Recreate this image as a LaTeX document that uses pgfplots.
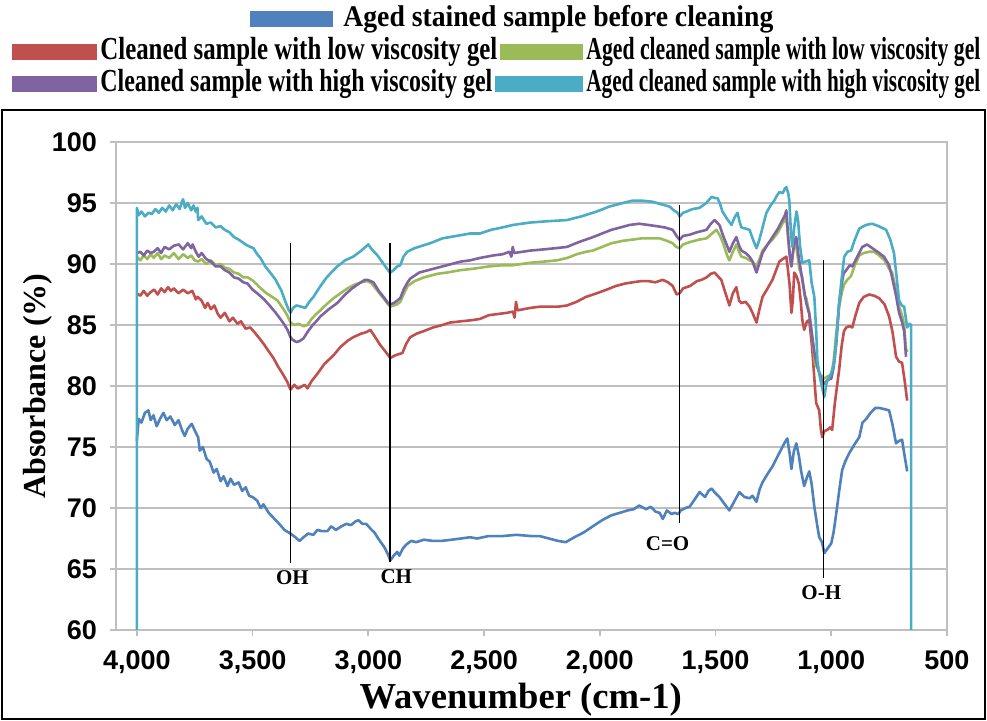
\documentclass[border=0pt]{standalone}
\usepackage{fontspec}
\setmainfont{Liberation Serif}
\newfontfamily\ticksf{Liberation Sans}
\usepackage{graphicx}
\usepackage{pgfplots}
\pgfplotsset{compat=1.18}
\definecolor{cBlue}{HTML}{4F81BD}
\definecolor{cRed}{HTML}{C0504D}
\definecolor{cGreen}{HTML}{9BBB59}
\definecolor{cPurple}{HTML}{8064A2}
\definecolor{cCyan}{HTML}{4BACC6}
\definecolor{gridgray}{HTML}{BFBFBF}
% legend text squeezed to a given width, natural height
\newcommand{\legtext}[3]{\resizebox{#1}{\height}{\bfseries\fontsize{#2}{18}\selectfont #3}}

\begin{document}
\begin{tikzpicture}
\useasboundingbox (-58pt,-45.5pt) rectangle (435.5pt,315pt);
\begin{axis}[
  at={(0pt,0pt)}, anchor=south west,
  width=415.5pt, height=244pt, scale only axis,
  x dir=reverse,
  xmin=500, xmax=4090, ymin=60, ymax=100,
  xtick={500,1000,...,4000}, ytick={60,65,...,100},
  axis line style={draw=gridgray, line width=0.8pt},
  ymajorgrids, grid style={gridgray, line width=0.8pt},
  tick align=outside, xtick pos=bottom, ytick pos=left,
  major tick length=3pt, tick style={gridgray, line width=0.8pt},
  /pgf/number format/assume math mode=true,
  tick label style={font=\ticksf\bfseries\fontsize{13.5}{14}\selectfont},
  xticklabel style={yshift=-4pt},
  yticklabel style={xshift=-3pt},
  xlabel={Wavenumber (cm-1)}, ylabel={Absorbance (\%)},
  xlabel style={font=\bfseries\fontsize{18.3}{20}\selectfont, at={(axis description cs:0.487,-0.143)}, anchor=center},
  ylabel style={font=\bfseries\fontsize{16}{18}\selectfont, at={(axis description cs:-0.094,0.5)}, anchor=center},
  every axis plot/.append style={line width=1.3pt, line join=round},
]
% Aged stained sample before cleaning
\addplot[cBlue] coordinates {
(4000,75.5) (3992,77.3) (3980,77.0) (3965,77.8) (3950,78.0) (3940,77.2) (3928,77.6) (3914,76.7)
(3900,77.3) (3885,77.8) (3871,77.2) (3855,77.5) (3836,76.8) (3820,77.2) (3805,76.4) (3793,75.9)
(3780,76.5) (3763,76.9) (3746,76.2) (3735,75.8) (3728,74.7) (3715,75.0) (3698,74.0) (3685,73.8)
(3668,72.9) (3655,73.2) (3638,72.2) (3625,72.6) (3608,71.8) (3595,72.4) (3580,71.9) (3560,72.1)
(3545,71.4) (3530,71.7) (3515,71.0) (3500,70.9) (3480,70.6) (3465,70.0) (3453,70.3) (3430,69.6)
(3405,69.1) (3385,68.7) (3362,68.2) (3345,68.0) (3336,67.9) (3315,67.6) (3297,67.3) (3280,67.6)
(3260,67.9) (3237,67.8) (3220,68.2) (3200,68.1) (3177,68.1) (3160,68.5) (3140,68.2) (3116,68.5)
(3095,68.7) (3075,68.6) (3055,68.9) (3043,69.0) (3025,68.7) (3009,68.7) (2990,68.3) (2974,68.0)
(2950,67.3) (2931,66.8) (2915,66.2) (2905,65.7) (2890,66.1) (2875,66.4) (2866,66.1) (2850,66.7)
(2836,67.0) (2815,67.3) (2793,67.2) (2760,67.4) (2720,67.3) (2685,67.3) (2640,67.4) (2600,67.5)
(2560,67.6) (2530,67.5) (2480,67.7) (2420,67.7) (2360,67.8) (2297,67.7) (2260,67.7) (2220,67.5)
(2180,67.3) (2147,67.2) (2110,67.6) (2069,68.0) (2030,68.5) (1990,69.0) (1950,69.4) (1914,69.6)
(1880,69.8) (1853,69.9) (1830,70.2) (1800,69.9) (1780,70.1) (1759,69.7) (1741,69.6) (1728,69.1)
(1710,69.8) (1690,69.5) (1677,69.6) (1660,69.5) (1650,69.8) (1630,70.0) (1612,70.1) (1590,70.7)
(1569,71.3) (1545,70.9) (1530,71.4) (1517,71.6) (1500,71.2) (1483,70.9) (1460,70.3) (1440,69.8)
(1420,70.5) (1397,71.3) (1375,70.9) (1353,70.8) (1340,71.0) (1323,70.5) (1310,71.5) (1297,72.1)
(1275,72.8) (1254,73.4) (1230,74.3) (1211,75.0) (1200,75.4) (1190,75.7) (1180,74.5) (1172,73.2)
(1162,74.6) (1151,75.3) (1140,74.3) (1130,73.0) (1117,71.8) (1105,72.5) (1095,73.0) (1085,72.0)
(1073,70.1) (1060,68.5) (1052,67.6) (1040,67.2) (1030,66.3) (1015,66.7) (1000,67.1) (990,68.0)
(978,69.6) (965,71.5) (953,73.1) (940,73.8) (922,74.5) (900,75.2) (879,75.8) (865,77.0)
(849,77.3) (830,77.8) (810,78.2) (793,78.2) (770,78.1) (750,78.0) (735,76.8) (720,75.3)
(707,75.5) (694,75.6) (685,74.5) (672,73.0)
};
% Cleaned sample with low viscosity gel
\addplot[cRed] coordinates {
(4000,87.6) (3985,87.4) (3970,87.8) (3955,87.4) (3940,87.7) (3925,87.9) (3910,87.5) (3895,88.0)
(3880,87.7) (3865,88.1) (3853,87.8) (3840,88.0) (3820,87.6) (3800,87.9) (3780,87.6) (3760,87.8)
(3745,87.1) (3737,87.3) (3720,87.0) (3705,86.4) (3694,86.8) (3680,86.3) (3665,86.6) (3650,85.9)
(3638,85.6) (3620,86.0) (3600,85.3) (3585,85.6) (3565,85.1) (3550,85.3) (3530,84.7) (3510,84.8)
(3496,84.5) (3470,83.9) (3450,83.4) (3436,83.0) (3410,82.3) (3390,81.6) (3370,81.0) (3349,80.3)
(3336,79.7) (3320,80.1) (3305,79.8) (3293,79.9) (3275,80.1) (3263,79.8) (3245,80.4) (3220,81.0)
(3190,81.8) (3151,82.5) (3120,83.2) (3090,83.7) (3065,84.0) (3030,84.3) (3010,84.4) (2991,84.6)
(2970,84.0) (2950,83.4) (2925,82.8) (2905,82.3) (2885,82.5) (2870,82.6) (2853,82.7) (2835,83.5)
(2819,84.0) (2790,84.3) (2760,84.5) (2720,84.8) (2680,85.0) (2647,85.2) (2600,85.3) (2550,85.4)
(2517,85.5) (2480,85.8) (2440,85.9) (2400,86.0) (2375,86.1) (2368,85.6) (2362,86.9) (2355,86.2)
(2300,86.4) (2260,86.5) (2228,86.5) (2180,86.5) (2142,86.6) (2100,86.9) (2060,87.3) (2013,87.6)
(1970,87.9) (1930,88.2) (1890,88.4) (1858,88.5) (1820,88.6) (1790,88.6) (1760,88.5) (1728,88.7)
(1705,88.5) (1685,88.2) (1668,87.5) (1655,87.6) (1640,88.0) (1610,88.2) (1580,88.6) (1560,88.7)
(1539,88.9) (1520,89.2) (1504,89.3) (1490,89.0) (1475,88.7) (1460,87.8) (1440,86.6) (1425,87.6)
(1410,88.1) (1398,87.0) (1388,86.8) (1370,86.9) (1353,86.5) (1340,86.0) (1323,85.2) (1310,86.3)
(1297,87.3) (1275,88.0) (1254,88.7) (1240,89.4) (1224,90.2) (1210,90.4) (1194,90.6) (1188,89.7)
(1180,88.3) (1172,86.0) (1166,87.0) (1160,89.3) (1150,89.0) (1140,88.4) (1132,87.0) (1125,85.4)
(1117,84.6) (1105,85.3) (1095,85.4) (1082,83.0) (1070,79.8) (1065,78.6) (1052,78.0) (1045,76.5)
(1039,75.8) (1030,76.3) (1017,76.4) (1005,76.6) (996,76.4) (985,78.5) (975,80.0) (966,81.3)
(955,83.3) (945,84.5) (935,84.8) (922,84.9) (909,84.8) (895,85.8) (879,86.8) (860,87.3)
(836,87.5) (815,87.4) (793,87.2) (770,86.7) (750,85.7) (735,84.4) (720,82.4) (707,82.0)
(694,81.9) (682,80.3) (672,78.8)
};
% Aged cleaned sample with low viscosity gel
\addplot[cGreen] coordinates {
(4000,90.6) (3985,90.3) (3970,90.7) (3955,90.4) (3940,90.8) (3927,90.5) (3910,90.9) (3895,90.4)
(3880,90.7) (3860,90.5) (3840,90.9) (3820,90.4) (3800,90.8) (3780,90.5) (3765,90.7) (3750,90.3)
(3735,90.2) (3720,90.4) (3700,90.0) (3680,90.3) (3660,89.9) (3638,90.0) (3620,89.7) (3600,89.6)
(3580,89.3) (3560,89.2) (3540,88.9) (3520,88.9) (3496,88.6) (3470,88.1) (3440,87.6) (3415,87.3)
(3392,87.0) (3370,86.4) (3350,85.8) (3336,85.2) (3320,85.0) (3300,85.1) (3280,84.9) (3263,85.0)
(3245,85.5) (3225,85.9) (3207,86.2) (3180,86.7) (3150,87.2) (3120,87.6) (3090,88.0) (3060,88.3)
(3030,88.5) (3004,88.6) (2985,88.4) (2960,87.8) (2935,87.2) (2915,86.7) (2905,86.5) (2890,86.6)
(2875,86.7) (2862,86.9) (2845,87.6) (2830,88.2) (2800,88.6) (2760,88.9) (2700,89.2) (2660,89.3)
(2600,89.5) (2550,89.6) (2480,89.8) (2420,89.9) (2375,89.9) (2300,90.1) (2240,90.2) (2185,90.3)
(2140,90.5) (2100,90.8) (2060,91.0) (2030,91.1) (1990,91.4) (1950,91.7) (1900,91.9) (1858,92.0)
(1820,92.1) (1780,92.1) (1741,92.1) (1710,91.9) (1685,91.7) (1670,91.4) (1655,91.3) (1640,91.6)
(1610,91.8) (1570,92.0) (1539,92.1) (1515,92.5) (1496,92.8) (1480,92.3) (1465,91.6) (1450,90.7)
(1440,90.3) (1425,91.0) (1410,91.6) (1398,91.0) (1388,90.6) (1370,90.5) (1353,90.3) (1340,90.2)
(1323,89.8) (1310,90.4) (1297,91.1) (1275,91.6) (1254,92.0) (1230,92.6) (1211,93.3) (1200,93.6)
(1194,93.8) (1186,92.0) (1178,90.5) (1172,89.8) (1165,91.0) (1158,91.8) (1150,91.3) (1138,89.6)
(1125,88.9) (1115,87.4) (1108,87.2) (1095,86.0) (1082,84.0) (1070,81.8) (1060,81.5) (1050,81.0)
(1040,80.8) (1030,80.6) (1015,80.8) (1000,80.9) (990,82.0) (980,84.0) (966,86.5) (955,87.6)
(945,88.3) (931,88.7) (915,89.0) (900,89.8) (879,90.7) (860,90.9) (836,91.0) (815,91.0)
(793,90.7) (770,90.3) (750,89.6) (737,89.3) (720,87.8) (707,86.5) (694,85.8) (685,85.0)
(677,83.0) (670,82.8)
};
% Cleaned sample with high viscosity gel
\addplot[cPurple] coordinates {
(4000,90.9) (3985,91.0) (3970,90.7) (3955,91.1) (3940,90.9) (3927,91.0) (3910,91.3) (3895,90.9)
(3880,91.4) (3860,91.2) (3840,91.5) (3819,91.6) (3800,91.2) (3780,91.7) (3765,91.3) (3759,91.6)
(3745,91.0) (3733,90.6) (3720,90.9) (3700,90.4) (3680,90.2) (3660,89.8) (3638,89.8) (3620,89.5)
(3600,89.3) (3580,88.9) (3560,88.8) (3540,88.5) (3522,88.4) (3500,87.9) (3480,87.6) (3450,87.1)
(3422,86.5) (3400,86.0) (3380,85.5) (3365,85.1) (3349,84.6) (3336,84.0) (3328,83.8) (3310,83.6)
(3295,83.7) (3280,83.9) (3260,84.5) (3240,85.0) (3220,85.4) (3207,85.7) (3170,86.3) (3134,86.8)
(3100,87.5) (3070,88.0) (3040,88.4) (3015,88.7) (3004,88.7) (2990,88.6) (2978,88.5) (2955,87.8)
(2930,87.2) (2915,86.8) (2905,86.7) (2890,86.8) (2875,87.0) (2862,87.2) (2845,88.0) (2830,88.5)
(2819,88.8) (2780,89.3) (2720,89.6) (2660,89.9) (2600,90.2) (2560,90.3) (2517,90.5) (2460,90.7)
(2420,90.8) (2390,91.0) (2382,90.6) (2376,91.4) (2370,90.9) (2300,91.1) (2240,91.2) (2190,91.3)
(2142,91.4) (2090,91.8) (2030,92.2) (1990,92.5) (1950,92.8) (1910,93.0) (1871,93.2) (1830,93.3)
(1790,93.2) (1754,93.1) (1720,93.0) (1685,92.8) (1665,92.2) (1655,92.0) (1640,92.3) (1612,92.4)
(1580,92.6) (1539,92.8) (1520,93.3) (1504,93.6) (1483,93.2) (1465,92.2) (1450,91.5) (1440,91.0)
(1425,91.7) (1410,92.2) (1398,91.5) (1388,91.1) (1370,90.9) (1353,90.6) (1340,90.2) (1323,89.3)
(1310,90.1) (1297,90.9) (1275,91.6) (1254,92.2) (1230,92.9) (1211,93.6) (1200,94.0) (1194,94.4)
(1185,92.0) (1178,90.5) (1172,89.8) (1165,91.0) (1158,92.0) (1151,92.2) (1140,90.5) (1125,88.7)
(1117,87.8) (1108,86.8) (1095,85.9) (1082,84.0) (1070,82.4) (1060,81.6) (1050,81.0) (1040,80.4)
(1030,80.2) (1015,80.5) (1000,80.6) (990,81.5) (978,83.5) (966,86.8) (955,88.3) (947,89.2)
(935,89.5) (920,89.9) (909,89.8) (890,90.5) (866,91.4) (845,91.6) (823,91.3) (800,91.0)
(772,90.6) (750,89.9) (737,88.9) (720,87.4) (707,86.0) (695,85.3) (685,84.5) (677,82.4)
};
% Aged cleaned sample with high viscosity gel
\addplot[cCyan] coordinates {
(4000,59) (4000,94.6) (3992,94.0) (3980,94.3) (3965,93.9) (3950,94.2) (3935,94.1) (3920,94.5)
(3905,94.2) (3890,94.6) (3875,94.3) (3860,94.8) (3845,94.4) (3830,94.9) (3815,94.5) (3805,95.1)
(3800,95.3) (3792,94.6) (3780,95.0) (3765,94.4) (3755,94.8) (3746,94.3) (3738,94.6) (3735,93.6)
(3720,93.9) (3700,93.3) (3680,93.4) (3660,93.0) (3638,93.1) (3620,92.8) (3600,92.6) (3580,92.2)
(3560,92.0) (3530,91.6) (3510,91.4) (3496,91.3) (3480,90.8) (3466,90.5) (3445,89.8) (3420,89.2)
(3400,88.7) (3392,88.4) (3375,87.8) (3360,87.0) (3345,86.3) (3336,86.0) (3325,86.4) (3310,86.6)
(3290,86.5) (3272,86.4) (3255,86.9) (3237,87.3) (3210,88.1) (3180,88.9) (3160,89.3) (3134,89.8)
(3100,90.3) (3065,90.6) (3030,91.1) (3000,91.6) (2985,91.2) (2960,90.7) (2930,89.9) (2915,89.5)
(2905,89.3) (2890,89.5) (2875,89.8) (2862,89.9) (2848,90.6) (2832,91.0) (2800,91.3) (2733,91.7)
(2680,92.1) (2620,92.3) (2560,92.5) (2517,92.5) (2470,92.8) (2420,93.0) (2375,93.2) (2300,93.4)
(2230,93.5) (2142,93.6) (2080,93.9) (2013,94.3) (1960,94.7) (1900,95.0) (1858,95.2) (1820,95.2)
(1772,95.1) (1735,94.9) (1698,94.7) (1680,94.4) (1664,94.2) (1655,93.9) (1640,94.2) (1625,94.3)
(1600,94.5) (1569,94.6) (1540,95.0) (1517,95.5) (1500,95.4) (1491,95.4) (1480,94.9) (1470,94.3)
(1450,93.7) (1431,93.2) (1418,93.8) (1405,94.2) (1395,93.4) (1388,93.0) (1370,92.9) (1353,92.8)
(1338,92.0) (1323,91.3) (1312,91.9) (1302,92.6) (1290,93.5) (1280,94.2) (1262,94.8) (1246,95.2)
(1235,95.6) (1224,95.9) (1210,95.8) (1200,96.2) (1194,96.3) (1186,95.8) (1181,95.2) (1174,92.5)
(1168,91.4) (1160,93.0) (1150,94.3) (1143,93.5) (1135,91.5) (1125,90.1) (1110,90.2) (1095,90.3)
(1085,88.5) (1073,87.3) (1065,84.5) (1060,82.1) (1050,80.8) (1043,80.2) (1035,79.5) (1030,79.1)
(1020,80.3) (1009,80.7) (997,81.2) (987,81.9) (977,84.0) (966,86.8) (955,88.8) (944,90.6)
(930,91.0) (914,91.1) (900,91.9) (879,92.9) (850,93.2) (823,93.3) (795,93.1) (763,92.8)
(745,92.0) (729,90.9) (718,89.0) (707,87.0) (695,86.6) (685,86.5) (672,84.8) (662,85.1)
(655,85.0) (655,59)
};
% band markers
\addplot[black, line width=0.8pt] coordinates {(3336,65.5) (3336,91.7)};
\addplot[black, line width=0.8pt] coordinates {(2905,65.6) (2905,91.7)};
\addplot[black, line width=0.8pt] coordinates {(1655,68.8) (1655,94.8)};
\addplot[black, line width=0.8pt] coordinates {(1034,64.3) (1034,90.3)};
\node[font=\bfseries\fontsize{10.5}{12}\selectfont] at (axis cs:3328,64.3) {OH};
\node[font=\bfseries\fontsize{10.5}{12}\selectfont] at (axis cs:2879,64.4) {CH};
\node[font=\bfseries\fontsize{10.5}{12}\selectfont] at (axis cs:1707,67.1) {C=O};
\node[font=\bfseries\fontsize{10.5}{12}\selectfont] at (axis cs:1043,63.1) {O-H};
\end{axis}
% outer frame
\draw[black, line width=1pt] (-57pt,-44.5pt) rectangle (434.5pt,260pt);
% legend
\fill[cBlue] (67pt,301.5pt) rectangle (108.5pt,309.5pt);
\node[anchor=west, inner sep=0pt] at (113.5pt,305.5pt) {\legtext{215pt}{15}{Aged stained sample before cleaning}};
\fill[cRed] (-52pt,285pt) rectangle (-9.5pt,293pt);
\node[anchor=west, inner sep=0pt] at (-8pt,289pt) {\legtext{198.5pt}{16}{Cleaned sample with low viscosity gel}};
\fill[cGreen] (192pt,285pt) rectangle (233.5pt,293pt);
\node[anchor=west, inner sep=0pt] at (235pt,289pt) {\legtext{197pt}{16}{Aged cleaned sample with low viscosity gel}};
\fill[cPurple] (-52pt,269pt) rectangle (-9.5pt,277pt);
\node[anchor=west, inner sep=0pt] at (-8pt,273pt) {\legtext{196pt}{16}{Cleaned sample with high viscosity gel}};
\fill[cCyan] (189.5pt,269pt) rectangle (233.5pt,277pt);
\node[anchor=west, inner sep=0pt] at (235pt,273pt) {\legtext{197pt}{16}{Aged cleaned sample with high viscosity gel}};
\end{tikzpicture}
\end{document}
